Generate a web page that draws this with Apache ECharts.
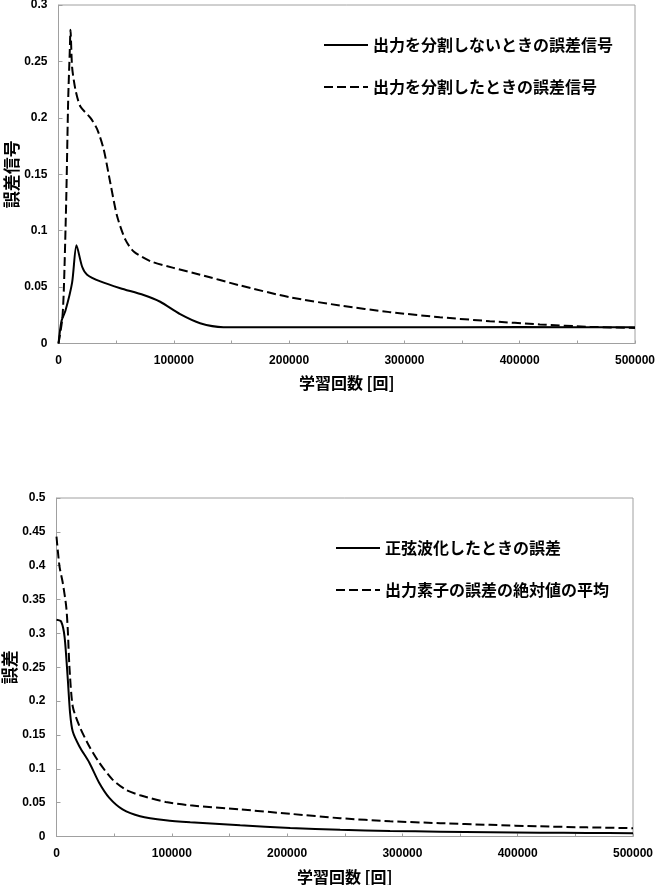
<!DOCTYPE html>
<html>
<head>
<meta charset="utf-8">
<script src="https://cdn.jsdelivr.net/npm/echarts@6/dist/echarts.min.js"></script>
<style>
html,body{margin:0;padding:0;background:#fff;}
#c{width:656px;height:885px;}
</style>
</head>
<body>
<div id="c"></div>
<script>
// ---- Top chart data ----
const topNames = ['出力を分割しないときの誤差信号', '出力を分割したときの誤差信号'];
const topSolidX = [0, 2600, 6000, 11800, 15600, 20500, 24800, 36300, 53600, 73800, 88200, 105500, 122800, 143000, 200000, 300000, 400000, 500000];
const topSolidY = [0, 0.020, 0.029, 0.054, 0.087, 0.068, 0.061, 0.055, 0.049, 0.043, 0.037, 0.026, 0.018, 0.0145, 0.0143, 0.0143, 0.0146, 0.0143];
const topDashX = [0, 3200, 4600, 6700, 8400, 9800, 10400, 11800, 14700, 19000, 27700, 33500, 39200, 45000, 50800, 58000, 65200, 79600, 99700, 122800, 157300, 200600, 244000, 287300, 330700, 374000, 417500, 460900, 500000];
const topDashY = [0, 0.021, 0.047, 0.127, 0.216, 0.260, 0.278, 0.245, 0.225, 0.210, 0.200, 0.190, 0.172, 0.142, 0.113, 0.092, 0.0816, 0.073, 0.067, 0.061, 0.0515, 0.041, 0.0337, 0.0278, 0.0233, 0.0198, 0.0169, 0.0148, 0.0138];

// ---- Bottom chart data ----
const botNames = ['正弦波化したときの誤差', '出力素子の誤差の絶対値の平均'];
const botSolidX = [0, 4000, 7000, 9800, 11800, 14100, 19900, 28500, 37100, 45800, 57300, 72500, 94700, 116000, 159300, 202700, 246000, 289300, 332700, 376000, 419400, 460000, 500000];
const botSolidY = [0.320, 0.3176, 0.295, 0.232, 0.182, 0.155, 0.133, 0.109, 0.079, 0.057, 0.040, 0.030, 0.024, 0.021, 0.0165, 0.0125, 0.0098, 0.0082, 0.0072, 0.0064, 0.0057, 0.0052, 0.0048];
const botDashX = [0, 2600, 5500, 8400, 9800, 11200, 14100, 19900, 28500, 37100, 48600, 60200, 72500, 94700, 116000, 159300, 202700, 246000, 289300, 332700, 376000, 419400, 460000, 500000];
const botDashY = [0.443, 0.399, 0.374, 0.340, 0.305, 0.251, 0.192, 0.163, 0.133, 0.109, 0.084, 0.069, 0.061, 0.051, 0.046, 0.040, 0.0335, 0.027, 0.0225, 0.0197, 0.0172, 0.0150, 0.0135, 0.0123];

const xTitle = '学習回数 [回]';
const topYTitle = '誤差信号';
const botYTitle = '誤差';

function zip(xs, ys) { return xs.map((x, i) => [x, ys[i]]); }

const tickFont = { color: '#000', fontSize: 12, fontWeight: 'bold', fontFamily: 'Liberation Sans, Arial, sans-serif' };
const titleFont = { color: '#000', fontSize: 17, fontWeight: 'bold', fontFamily: 'Noto Sans CJK JP, sans-serif' };
const gray = '#a0a0a0';

function xAxis(gridIndex, gap) {
  return {
    type: 'value', gridIndex: gridIndex, min: 0, max: 500000, interval: 50000,
    name: xTitle, nameLocation: 'middle', nameGap: gap, nameMoveOverlap: false,
    nameTextStyle: Object.assign({}, titleFont, { fontSize: 16 }),
    axisLine: { lineStyle: { color: gray, width: 1 } },
    axisTick: { inside: true, length: 3, lineStyle: { color: gray } },
    axisLabel: Object.assign({}, tickFont, { margin: 11, formatter: v => (v % 100000 === 0 ? String(v) : '') }),
    splitLine: { show: false }
  };
}
function yAxis(gridIndex, max, interval, name) {
  return {
    type: 'value', gridIndex: gridIndex, min: 0, max: max, interval: interval,
    name: name, nameLocation: 'middle', nameGap: 38, nameRotate: 90, nameMoveOverlap: false,
    nameTextStyle: titleFont,
    axisLine: { show: true, lineStyle: { color: gray, width: 1 } },
    axisTick: { show: true, inside: true, length: 4, lineStyle: { color: gray } },
    axisLabel: Object.assign({}, tickFont, { margin: 11 }),
    splitLine: { show: false }
  };
}
function lineSeries(name, data, xi, yi, dashed) {
  return {
    type: 'line', name: name, xAxisIndex: xi, yAxisIndex: yi, data: data,
    symbol: 'none', smooth: 0.25, animation: false,
    lineStyle: { color: '#000', width: 2, type: dashed ? [9, 4] : 'solid' },
    itemStyle: { color: '#000' }
  };
}
const legendText = { color: '#000', fontSize: 16, fontWeight: 'bold', fontFamily: 'Noto Sans CJK JP, sans-serif' };
const legendBase = {
  orient: 'vertical', padding: 0, itemWidth: 44, itemHeight: 14, itemGap: 26,
  textStyle: legendText,
  itemStyle: { color: 'transparent', borderColor: 'transparent', borderWidth: 0, opacity: 0 }
};

const option = {
  backgroundColor: '#fff',
  animation: false,
  grid: [
    { left: 58.5, right: 21, top: 5, height: 338.5, show: true, borderColor: gray, borderWidth: 1, outerBoundsMode: 'none', containLabel: false },
    { left: 56.5, right: 23, top: 498, height: 338.5, show: true, borderColor: gray, borderWidth: 1, outerBoundsMode: 'none', containLabel: false }
  ],
  legend: [
    Object.assign({}, legendBase, { data: topNames, left: 323, top: 37 }),
    Object.assign({}, legendBase, { data: botNames, left: 335, top: 540 })
  ],
  xAxis: [xAxis(0, 31), xAxis(1, 32)],
  yAxis: [yAxis(0, 0.3, 0.05, topYTitle), yAxis(1, 0.5, 0.05, botYTitle)],
  series: [
    lineSeries(topNames[0], zip(topSolidX, topSolidY), 0, 0, false),
    lineSeries(topNames[1], zip(topDashX, topDashY), 0, 0, true),
    lineSeries(botNames[0], zip(botSolidX, botSolidY), 1, 1, false),
    lineSeries(botNames[1], zip(botDashX, botDashY), 1, 1, true)
  ]
};
const chart = echarts.init(document.getElementById('c'), null, { renderer: 'canvas' });
chart.setOption(option);
</script>
</body>
</html>
